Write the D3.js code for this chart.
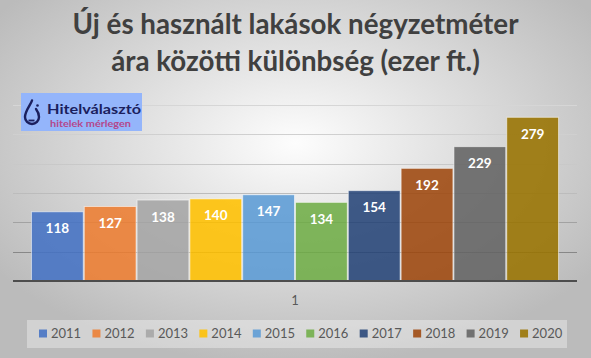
<!DOCTYPE html>
<html>
<head>
<meta charset="utf-8">
<script src="https://cdn.jsdelivr.net/npm/d3@7"></script>
<style>
html,body{margin:0;padding:0;background:#fff;}
svg{display:block;}
text{font-family:Lato,"Open Sans",sans-serif;}
</style>
</head>
<body>
<svg id="chart" width="591" height="358"></svg>
<script>
const titleLines = ["Új és használt lakások négyzetméter", "ára közötti különbség (ezer ft.)"];
const categories = ["1"];
const seriesNames = ["2011","2012","2013","2014","2015","2016","2017","2018","2019","2020"];
const seriesValues = [118,127,138,140,147,134,154,192,229,279];
const seriesColors = ["#4472C4","#ED7D31","#A5A5A5","#FFC000","#5B9BD5","#70AD47","#264478","#9E480E","#636363","#997300"];
const yTicks = [50,100,150,200,250,300];

const W = 591, H = 358;
const svg = d3.select("#chart");
const defs = svg.append("defs");

const bg = defs.append("radialGradient").attr("id","bg")
  .attr("cx","50%").attr("cy","40%").attr("r","62%");
bg.append("stop").attr("offset","0%").attr("stop-color","#fdfdfd");
bg.append("stop").attr("offset","100%").attr("stop-color","#bbbbbb");
svg.append("rect").attr("width",W).attr("height",H).attr("fill","url(#bg)");

const plot = {left:13, right:577, top:105, bottom:281};

const x0 = d3.scaleBand().domain(categories).range([plot.left, plot.right]).paddingInner(0).paddingOuter(0.034);
const x1 = d3.scaleBand().domain(seriesNames).range([0, x0.bandwidth()]).padding(0);
const y = d3.scaleLinear().domain([0,300]).range([plot.bottom, plot.top]);

// gridline gradient
const gg = defs.append("linearGradient").attr("id","grid").attr("gradientUnits","userSpaceOnUse")
  .attr("x1",0).attr("y1",plot.top).attr("x2",0).attr("y2",plot.bottom);
gg.append("stop").attr("offset","0%").attr("stop-color","#d6d6d6");
gg.append("stop").attr("offset","45%").attr("stop-color","#c4c4c4");
gg.append("stop").attr("offset","100%").attr("stop-color","#6e6e6e");

svg.append("g").selectAll("line").data(yTicks).join("line")
  .attr("x1",plot.left).attr("x2",plot.right)
  .attr("y1",d=>Math.round(y(d))+0.5).attr("y2",d=>Math.round(y(d))+0.5)
  .attr("stroke","url(#grid)").attr("stroke-width",1);

// bars
const g = svg.append("g").attr("transform",`translate(${x0(categories[0])},0)`);
g.selectAll("rect").data(seriesValues).join("rect")
  .attr("x",(d,i)=>x1(seriesNames[i])+0.5)
  .attr("y",d=>y(d))
  .attr("width",x1.bandwidth()-1)
  .attr("height",d=>y(0)-y(d))
  .attr("fill",(d,i)=>seriesColors[i])
  .attr("fill-opacity",0.88)
  .attr("stroke","#ffffff").attr("stroke-opacity",0.55).attr("stroke-width",1);

g.selectAll("text.lbl").data(seriesValues).join("text").attr("class","lbl")
  .attr("x",(d,i)=>x1(seriesNames[i])+x1.bandwidth()/2)
  .attr("y",d=>y(d)+21.5)
  .attr("text-anchor","middle")
  .attr("fill","#ffffff").attr("font-weight","bold").attr("font-size","13.5px")
  .text(d=>d);

// baseline axis
svg.append("line").attr("x1",plot.left).attr("x2",plot.right)
  .attr("y1",plot.bottom).attr("y2",plot.bottom)
  .attr("stroke","#4d4d4d").attr("stroke-width",2);

// category axis
const xAxis = d3.axisBottom(x0).tickSize(0).tickPadding(0);
const ax = svg.append("g").attr("transform",`translate(0,${plot.bottom})`).call(xAxis);
ax.select(".domain").remove();
ax.selectAll("text").attr("dy",null).attr("y",24).attr("font-size","13px").attr("fill","#595959")
  .attr("font-family","Lato,sans-serif");

// title
const title = svg.append("g");
titleLines.forEach((t,i)=>{
  title.append("text").attr("x",295.5).attr("y",[33.5,71][i])
    .attr("text-anchor","middle").attr("font-weight","bold").attr("font-size","25px")
    .attr("fill","#404040").text(t);
});
{
  const first = title.select("text").node();
  const w = first.getComputedTextLength();
  const fs = Math.max(22, Math.min(28, 25*446/w));
  title.selectAll("text").attr("font-size",fs+"px");
}

// logo
const logo = svg.append("g");
logo.append("rect").attr("x",21).attr("y",93).attr("width",121).attr("height",38).attr("fill","#94b5fb");
logo.append("path")
  .attr("d","M32,100.5 C31,104 25,111 25,117 A7,7 0 0 0 39,117 C39,114 37.5,111 36,109")
  .attr("fill","none").attr("stroke","#1b1f5e").attr("stroke-width",2.4).attr("stroke-linecap","round");
logo.append("line").attr("x1",28.5).attr("x2",34.5).attr("y1",120.5).attr("y2",120.5)
  .attr("stroke","#1b1f5e").attr("stroke-width",1.8);
logo.append("circle").attr("cx",37.5).attr("cy",105.5).attr("r",1.3).attr("fill","#1b1f5e");
logo.append("text").attr("x",47).attr("y",113.5).attr("font-weight","bold").attr("font-size","13px")
  .attr("fill","#1b1f5e").attr("textLength",94).attr("lengthAdjust","spacingAndGlyphs").text("Hitelválasztó");
logo.append("text").attr("x",50).attr("y",127).attr("font-weight","bold").attr("font-size","9.5px")
  .attr("fill","#b4478b").attr("textLength",81).attr("lengthAdjust","spacingAndGlyphs").text("hitelek mérlegen");

// legend
svg.append("rect").attr("x",27).attr("y",320).attr("width",540).attr("height",28)
  .attr("fill","#ffffff").attr("fill-opacity",0.35);
const leg = svg.append("g").selectAll("g").data(seriesNames).join("g")
  .attr("transform",(d,i)=>`translate(${39+i*53.45},0)`);
leg.append("rect").attr("x",0).attr("y",329.5).attr("width",8).attr("height",8)
  .attr("fill",(d,i)=>seriesColors[i]).attr("fill-opacity",0.88);
leg.append("text").attr("x",12).attr("y",338).attr("font-size","13px").attr("fill","#595959").text(d=>d);
</script>
</body>
</html>
